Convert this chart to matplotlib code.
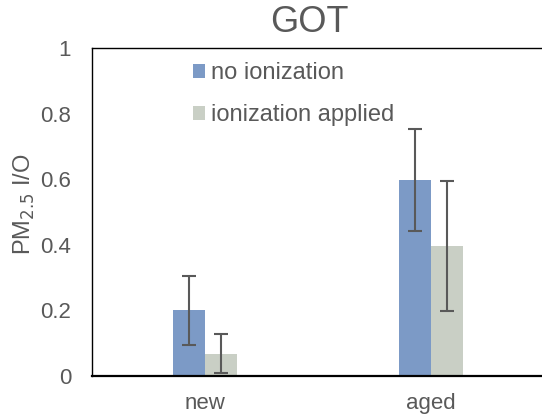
import matplotlib
matplotlib.use("Agg")
import matplotlib.pyplot as plt
import numpy as np

plt.rcParams['font.family'] = ['Liberation Sans', 'DejaVu Sans']

categories = ["new", "aged"]
series_names = ["no ionization", "ionization applied"]
no_ion = [0.20, 0.597]
no_ion_err = [0.105, 0.155]
ion = [0.068, 0.397]
ion_err = [0.059, 0.198]
yticks = [0, 0.2, 0.4, 0.6, 0.8, 1]
ytick_labels = ["0", "0.2", "0.4", "0.6", "0.8", "1"]

fig = plt.figure(figsize=(5.42, 4.2), dpi=100)
ax = fig.add_axes([92/542, 44/420, 452/542, 328/420])

x = np.arange(len(categories))
w = 0.14
c_blue = "#7C9AC6"
c_gray = "#C9CFC5"
ecol = "#595959"
ax.bar(x - w/2, no_ion, w, color=c_blue, label=series_names[0], zorder=2)
ax.bar(x + w/2, ion, w, color=c_gray, label=series_names[1], zorder=2)
ax.errorbar(x - w/2, no_ion, yerr=no_ion_err, fmt='none', ecolor=ecol,
            elinewidth=1.5, capsize=5, capthick=1.5, zorder=3)
ax.errorbar(x + w/2, ion, yerr=ion_err, fmt='none', ecolor=ecol,
            elinewidth=1.5, capsize=5, capthick=1.5, zorder=3)

ax.set_xlim(-0.5, 1.5)
ax.set_ylim(0, 1)
ax.set_yticks(yticks)
ax.set_yticklabels(ytick_labels)
ax.set_xticks(x)
ax.set_xticklabels(categories)
ax.tick_params(axis='both', length=0, labelsize=16, colors="#595959")
ax.tick_params(axis='y', pad=15)
ax.tick_params(axis='x', pad=12)

for s in ['left', 'top']:
    ax.spines[s].set_linewidth(1.0)
    ax.spines[s].set_color('black')
ax.spines['bottom'].set_linewidth(1.6)
ax.spines['bottom'].set_color('black')
ax.spines['right'].set_visible(False)

ax.set_ylabel("PM$_{2.5}$ I/O", fontsize=17, color="#595959")
ax.yaxis.set_label_coords(-0.150, 0.524)
ax.yaxis.label.set_va('center')

fig.text(309.5/542, 1 - 22/420, "GOT", ha='center', va='center', fontsize=26, color="#595959")

leg = ax.legend(loc='upper left', bbox_to_anchor=(193/542, 1 - 62/420),
                bbox_transform=fig.transFigure, frameon=False, borderpad=0, borderaxespad=0,
                fontsize=17, handlelength=0.52, handleheight=0.52, handletextpad=0.25,
                labelspacing=0.85, labelcolor="#595959")

fig.savefig("out.png", dpi=100)
